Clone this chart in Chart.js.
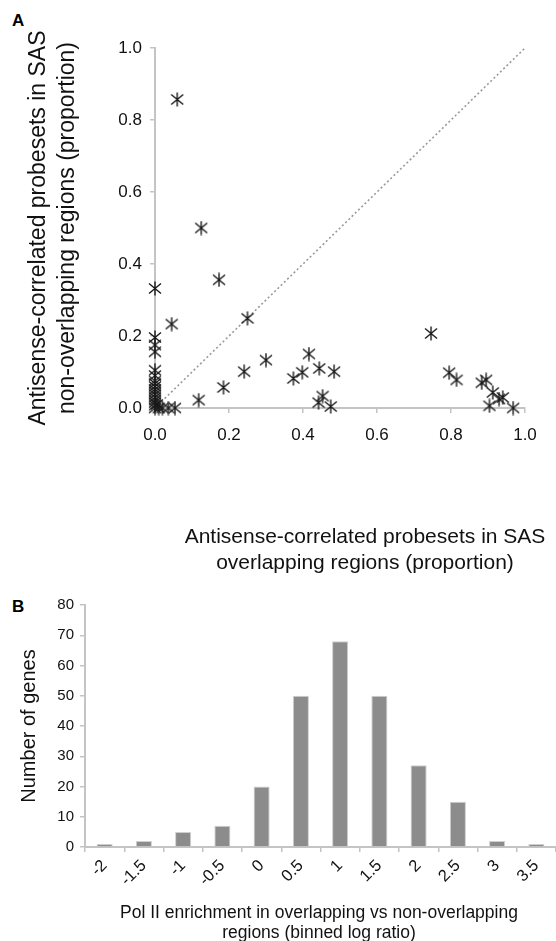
<!DOCTYPE html>
<html>
<head>
<meta charset="utf-8">
<script src="https://cdn.jsdelivr.net/npm/chart.js@4.4.1/dist/chart.umd.min.js"></script>
<style>
  body { margin: 0; background: #fff; width: 556px; height: 941px; overflow: hidden; position: relative; }
  .panel { position: absolute; left: 0; width: 556px; }
  .letter { position: absolute; font: bold 17px "Liberation Sans", Arial, sans-serif; color: #000; }
  .xtitle { position: absolute; text-align: center; font-family: "Liberation Sans", Arial, sans-serif; color: #111; }
</style>
</head>
<body>
<div class="letter" style="left:12px; top:11px;">A</div>
<div class="panel" style="top:0; height:580px;"><canvas id="chartA"></canvas></div>
<div class="xtitle" style="left:165px; width:400px; top:523px; font-size:21px; line-height:26px;">Antisense-correlated probesets in SAS<br>overlapping regions (proportion)</div>
<div class="letter" style="left:12px; top:597px;">B</div>
<div class="panel" style="top:590px; height:351px;"><canvas id="chartB"></canvas></div>
<div class="xtitle" style="left:69px; width:500px; top:902px; font-size:17.5px; line-height:20px;">Pol II enrichment in overlapping vs non-overlapping<br>regions (binned log ratio)</div>
<script>
// panel A: proportion in overlapping (x) vs non-overlapping (y) regions
var overlapProp = [0.06, 0.125, 0.173, 0.0, 0.25, 0.045, 0.746, 0.0, 0.0, 0.0,
                   0.416, 0.30, 0.444, 0.241, 0.484, 0.398, 0.795, 0.0, 0.0, 0.374,
                   0.815, 0.895, 0.883, 0.185, 0.913, 0.453, 0.93, 0.94, 0.118, 0.442,
                   0.904, 0.475, 0.968, 0.054, 0.036, 0.02, 0.01, 0.005,
                   0.0, 0.0, 0.0, 0.0, 0.0, 0.0, 0.0, 0.0, 0.0, 0.0, 0.0];
var nonOverlapProp = [0.857, 0.50, 0.356, 0.332, 0.249, 0.233, 0.207, 0.196, 0.175, 0.156,
                      0.15, 0.133, 0.110, 0.101, 0.101, 0.099, 0.098, 0.105, 0.090, 0.082,
                      0.078, 0.078, 0.070, 0.057, 0.043, 0.033, 0.025, 0.029, 0.022, 0.015,
                      0.006, 0.004, 0.0, 0.0, 0.0, 0.0, 0.0, 0.01,
                      0.0, 0.008, 0.015, 0.022, 0.03, 0.038, 0.045, 0.052, 0.06, 0.068, 0.075];
var axisTicksA = [0, 0.2, 0.4, 0.6, 0.8, 1.0];

// panel B: histogram of binned log ratio
var logRatioBins = ['-2', '-1.5', '-1', '-0.5', '0', '0.5', '1', '1.5', '2', '2.5', '3', '3.5'];
var geneCounts = [1, 2, 5, 7, 20, 50, 68, 50, 27, 15, 2, 1];

Chart.defaults.font.family = '"Liberation Sans", Arial, sans-serif';
Chart.defaults.color = '#111';

// asterisk marker like the original
var star = document.createElement('canvas');
star.width = 14; star.height = 15;
var sctx = star.getContext('2d');
sctx.strokeStyle = '#1a1a1a';
sctx.lineWidth = 1.4;
sctx.beginPath();
sctx.moveTo(7, 0.5); sctx.lineTo(7, 14.5);
sctx.moveTo(1, 2.5); sctx.lineTo(13, 12.5);
sctx.moveTo(13, 2.5); sctx.lineTo(1, 12.5);
sctx.stroke();

var points = [];
for (var i = 0; i < overlapProp.length; i++) {
    points.push({ x: overlapProp[i], y: nonOverlapProp[i] });
}

var axisGray = '#c4c4c4';

var chartA = new Chart(document.getElementById('chartA').getContext('2d'), {
    type: 'scatter',
    data: {
        datasets: [{
            data: points,
            pointStyle: star,
            clip: false
        }, {
            type: 'line',
            data: [{ x: 0, y: 0 }, { x: 1, y: 1 }],
            borderColor: '#9a9a9a',
            borderWidth: 1.6,
            borderDash: [2, 2.5],
            pointRadius: 0,
            fill: false
        }]
    },
    options: {
        responsive: true,
        maintainAspectRatio: false,
        animation: false,
        layout: { padding: { top: 48, right: 31, left: 0, bottom: 0 } },
        plugins: { legend: { display: false }, tooltip: { enabled: false } },
        scales: {
            x: {
                type: 'linear', min: 0, max: 1,
                afterBuildTicks: function (scale) {
                    scale.ticks = axisTicksA.map(function (v) { return { value: v }; });
                },
                afterFit: function (scale) { scale.height = 172; },
                ticks: { font: { size: 17 }, padding: 12, callback: function (v) { return v.toFixed(1); } },
                grid: { drawOnChartArea: false, tickLength: 5, color: axisGray, lineWidth: 1.5 },
                border: { color: axisGray, width: 2 }
            },
            y: {
                type: 'linear', min: 0, max: 1,
                afterBuildTicks: function (scale) {
                    scale.ticks = axisTicksA.map(function (v) { return { value: v }; });
                },
                afterFit: function (scale) { scale.width = 155; },
                ticks: { font: { size: 17 }, padding: 8, callback: function (v) { return v.toFixed(1); } },
                grid: { drawOnChartArea: false, tickLength: 5, color: axisGray, lineWidth: 1.5 },
                border: { color: axisGray, width: 2 },
                title: {
                    display: true,
                    text: ['Antisense-correlated probesets in SAS', 'non-overlapping regions (proportion)'],
                    font: { size: 23, lineHeight: 1.26 },
                    padding: { top: 24, bottom: 0 }
                }
            }
        }
    }
});

var chartB = new Chart(document.getElementById('chartB').getContext('2d'), {
    type: 'bar',
    data: {
        labels: logRatioBins,
        datasets: [{
            data: geneCounts,
            backgroundColor: '#8c8c8c',
            borderColor: '#cfcfcf',
            borderWidth: 1,
            categoryPercentage: 0.41,
            barPercentage: 1
        }]
    },
    options: {
        responsive: true,
        maintainAspectRatio: false,
        animation: false,
        layout: { padding: { top: 13, right: 0, left: 0, bottom: 0 } },
        plugins: { legend: { display: false }, tooltip: { enabled: false } },
        scales: {
            x: {
                afterFit: function (scale) { scale.height = 94; },
                ticks: { font: { size: 16.5 }, minRotation: 45, maxRotation: 45, autoSkip: false, padding: 4 },
                grid: { drawOnChartArea: false, tickLength: 5, color: axisGray, lineWidth: 1.5 },
                border: { color: axisGray, width: 2 }
            },
            y: {
                min: 0, max: 80,
                afterFit: function (scale) { scale.width = 85; },
                ticks: { font: { size: 15 }, stepSize: 10, padding: 6 },
                grid: { drawOnChartArea: false, tickLength: 5, color: axisGray, lineWidth: 1.5 },
                border: { color: axisGray, width: 2 },
                title: {
                    display: true,
                    text: 'Number of genes',
                    font: { size: 20, lineHeight: 1.25 },
                    padding: { top: 17, bottom: 0 }
                }
            }
        }
    }
});
</script>
</body>
</html>
